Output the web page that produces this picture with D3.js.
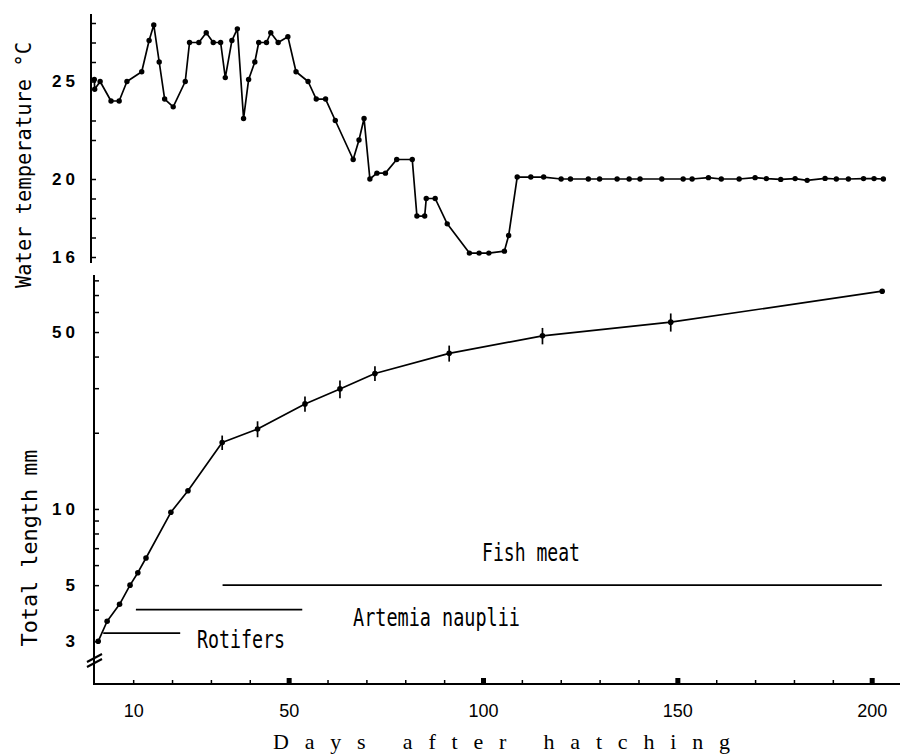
<!DOCTYPE html>
<meta charset="utf-8">
<style>
  body { margin: 0; background: #fff; }
  .line { fill: none; stroke: #000; stroke-width: 1.7; stroke-linejoin: round; }
  .axisline { stroke: #000; stroke-width: 2; fill: none; }
  .tick line { stroke: #000; stroke-width: 1.5; }
  .domain { display: none; }
</style>
<body>
<script src="https://cdn.jsdelivr.net/npm/d3@7"></script>
<script>

// water temperature, top panel
var tempDays = [0, 0.1, 1.5, 4.3, 6.4, 8.4, 12.2, 14.1, 15.3, 16.7, 18.1, 20.3, 23.4, 24.5, 26.9, 28.8,
  30.6, 32.5, 33.7, 35.4, 36.8, 38.4, 39.7, 41.3, 42.3, 44.3, 45.4, 47.3, 49.8, 51.9, 55.0, 57.1,
  59.5, 62.0, 66.6, 68.1, 69.4, 70.9, 72.7, 74.9, 77.8, 81.8, 83.0, 85.0, 85.4, 87.7, 90.8, 96.5,
  99.0, 101.5, 105.5, 106.6, 108.8, 112.3, 115.6, 120.1, 122.5, 127.1, 130.0, 134.5, 137.6, 140.4,
  146.0, 151.5, 153.8, 158.0, 161.3, 165.9, 170.0, 172.9, 176.6, 180.3, 183.4, 188.0, 190.9, 194.0,
  197.9, 200.6, 203.0];
var tempValues = [25.1, 24.6, 25.0, 24.0, 24.0, 25.0, 25.5, 27.1, 27.9, 26.0, 24.1, 23.7, 25.0, 27.0, 27.0, 27.5,
  27.0, 27.0, 25.2, 27.1, 27.7, 23.1, 25.1, 26.0, 27.0, 27.0, 27.5, 27.0, 27.3, 25.5, 25.0, 24.1,
  24.1, 23.0, 21.0, 22.0, 23.1, 20.0, 20.3, 20.3, 21.0, 21.0, 18.1, 18.1, 19.0, 19.0, 17.7, 16.2,
  16.2, 16.2, 16.3, 17.1, 20.1, 20.1, 20.1, 20.0, 20.0, 20.0, 20.0, 20.0, 20.0, 20.0,
  20.0, 20.0, 20.0, 20.07, 20.0, 20.0, 20.07, 20.02, 19.98, 20.02, 19.93, 20.03, 20.0, 20.0,
  20.02, 20.02, 20.0];

// total length, bottom panel
var lengthDays = [1.0, 3.3, 6.5, 9.2, 11.2, 13.3, 19.7, 24.1, 32.9, 42.0, 54.2, 63.2, 72.2, 91.3, 115.3, 148.3, 202.7];
var lengthValues = [3.0, 3.6, 4.2, 5.0, 5.6, 6.4, 9.7, 11.8, 18.3, 20.7, 26.0, 29.8, 34.3, 41.2, 48.3, 54.7, 72.5];
var lengthErr = [0, 0, 0, 0, 0, 0, 0, 0, 1.2, 1.5, 1.8, 2.4, 2.3, 3.0, 3.6, 4.5, 0];

// feeding periods
var foods = ["Rotifers", "Artemia nauplii", "Fish meat"];
var foodStart = [2.3, 10.7, 33.0];
var foodEnd = [22.1, 53.5, 202.6];
var foodLevel = [3.23, 4.0, 5.0];

// ticks
var dayTicks = [10, 20, 30, 40, 50, 60, 70, 80, 90, 100, 110, 120, 130, 140, 150, 160, 170, 180, 190, 200];
var dayLabels = [10, 50, 100, 150, 200];
var tempTicks = [16, 17, 18, 19, 20, 22, 23, 25, 26, 27, 28];
var tempLabels = [16, 20, 25];
var lengthTicks = [3, 4, 5, 6, 7, 8, 9, 10, 20, 30, 40, 50, 60, 70, 80];
var lengthLabels = [3, 5, 10, 50];

var width = 904, height = 756;

var svg = d3.select("body").append("svg")
    .attr("width", width)
    .attr("height", height)
    .style("background", "#fff");

var x = d3.scaleLinear().domain([0, 200]).range([94.3, 871.7]);
var yT = d3.scaleLinear().domain([16, 28]).range([257, 23]);
var yL = d3.scaleLog().domain([3, 84]).range([641.3, 275]);

var monoFont = '"DejaVu Sans Mono", monospace';
var numFont = '"Liberation Sans", Arial, sans-serif';

// ---- top panel: temperature
var topAxisX = 91;
svg.append("line").attr("class", "axisline")
    .attr("x1", topAxisX).attr("x2", topAxisX).attr("y1", 14).attr("y2", 263);

var gT = svg.append("g")
    .attr("transform", "translate(" + topAxisX + ",0)")
    .call(d3.axisLeft(yT).tickValues(tempTicks).tickSizeInner(-5).tickSizeOuter(0).tickPadding(12)
      .tickFormat(function(d) { return tempLabels.indexOf(d) >= 0 ? d : ""; }));
gT.selectAll(".tick line").attr("stroke-width", function(d) { return tempLabels.indexOf(d) >= 0 ? 3 : 1.5; });
gT.selectAll(".tick text")
    .style("font-family", numFont).style("font-size", "17px").style("font-weight", "bold")
    .style("letter-spacing", "4px").attr("fill", "#000");

var tempPts = tempDays.map(function(d, i) { return [d, tempValues[i]]; });
svg.append("path").datum(tempPts).attr("class", "line")
    .attr("d", d3.line().x(function(d) { return x(d[0]); }).y(function(d) { return yT(d[1]); }));
svg.append("g").selectAll("circle").data(tempPts).enter().append("circle")
    .attr("cx", function(d) { return x(d[0]); })
    .attr("cy", function(d) { return yT(d[1]); })
    .attr("r", 2.7);

// ---- bottom panel: total length
var botAxisX = 94;
svg.append("line").attr("class", "axisline")
    .attr("x1", botAxisX).attr("x2", botAxisX).attr("y1", 275).attr("y2", 685);
// axis break
svg.append("line").attr("class", "axisline").attr("stroke-width", 1.5)
    .attr("x1", 87).attr("y1", 662).attr("x2", 102).attr("y2", 654);
svg.append("line").attr("class", "axisline").attr("stroke-width", 1.5)
    .attr("x1", 87).attr("y1", 667).attr("x2", 102).attr("y2", 659);

var gL = svg.append("g")
    .attr("transform", "translate(" + botAxisX + ",0)")
    .call(d3.axisLeft(yL).tickValues(lengthTicks).tickSizeInner(-5).tickSizeOuter(0).tickPadding(15)
      .tickFormat(function(d) { return lengthLabels.indexOf(d) >= 0 ? d : ""; }));
gL.selectAll(".tick line").attr("stroke-width", function(d) { return lengthLabels.indexOf(d) >= 0 ? 3 : 1.5; });
gL.selectAll(".tick text")
    .style("font-family", numFont).style("font-size", "17px").style("font-weight", "bold")
    .style("letter-spacing", "4px").attr("fill", "#000");

// feeding bars
foods.forEach(function(f, i) {
  svg.append("line")
      .attr("x1", x(foodStart[i])).attr("x2", x(foodEnd[i]))
      .attr("y1", yL(foodLevel[i])).attr("y2", yL(foodLevel[i]))
      .attr("stroke", "#000").attr("stroke-width", 1.7);
});
var foodLabelPos = [[197, 648, 88], [353, 626, 167], [482, 561, 98]];
foods.forEach(function(f, i) {
  svg.append("text")
      .attr("x", foodLabelPos[i][0]).attr("y", foodLabelPos[i][1])
      .attr("textLength", foodLabelPos[i][2]).attr("lengthAdjust", "spacingAndGlyphs")
      .style("font-family", monoFont).style("font-size", "24px")
      .text(f);
});

var lenPts = lengthDays.map(function(d, i) { return [d, lengthValues[i], lengthErr[i]]; });
svg.append("path").datum(lenPts).attr("class", "line")
    .attr("d", d3.line().x(function(d) { return x(d[0]); }).y(function(d) { return yL(d[1]); }));
svg.append("g").selectAll("line").data(lenPts.filter(function(d) { return d[2] > 0; })).enter().append("line")
    .attr("x1", function(d) { return x(d[0]); }).attr("x2", function(d) { return x(d[0]); })
    .attr("y1", function(d) { return yL(d[1] - d[2]); })
    .attr("y2", function(d) { return yL(d[1] + d[2]); })
    .attr("stroke", "#000").attr("stroke-width", 1.7);
svg.append("g").selectAll("circle").data(lenPts).enter().append("circle")
    .attr("cx", function(d) { return x(d[0]); })
    .attr("cy", function(d) { return yL(d[1]); })
    .attr("r", 2.8);

// ---- x axis
var axisY = 684;
svg.append("line").attr("class", "axisline")
    .attr("x1", botAxisX).attr("x2", 900).attr("y1", axisY).attr("y2", axisY);
var gX = svg.append("g")
    .attr("transform", "translate(0," + axisY + ")")
    .call(d3.axisBottom(x).tickValues(dayTicks).tickSizeInner(-4).tickSizeOuter(0).tickPadding(20)
      .tickFormat(function(d) { return dayLabels.indexOf(d) >= 0 ? d : ""; }));
gX.selectAll(".tick text")
    .style("font-family", numFont).style("font-size", "18px").attr("fill", "#000");
gX.selectAll(".tick").filter(function(d) { return dayLabels.indexOf(d) > 0; })
    .append("rect").attr("x", -2.5).attr("y", -6).attr("width", 5).attr("height", 6).attr("fill", "#000");

// ---- titles
svg.append("text")
    .attr("x", 273).attr("y", 749)
    .attr("textLength", 457).attr("lengthAdjust", "spacing")
    .style("font-family", '"Liberation Serif", "Times New Roman", serif').style("font-size", "22px")
    .text("Days after hatching");

svg.append("text")
    .attr("transform", "translate(31,165) rotate(-90)")
    .attr("text-anchor", "middle")
    .attr("textLength", 246).attr("lengthAdjust", "spacingAndGlyphs")
    .style("font-family", monoFont).style("font-size", "22px")
    .text("Water temperature °C");

svg.append("text")
    .attr("transform", "translate(37,548) rotate(-90)")
    .attr("text-anchor", "middle")
    .attr("textLength", 197).attr("lengthAdjust", "spacingAndGlyphs")
    .style("font-family", monoFont).style("font-size", "21px")
    .text("Total length mm");

</script>
</body>
</html>
